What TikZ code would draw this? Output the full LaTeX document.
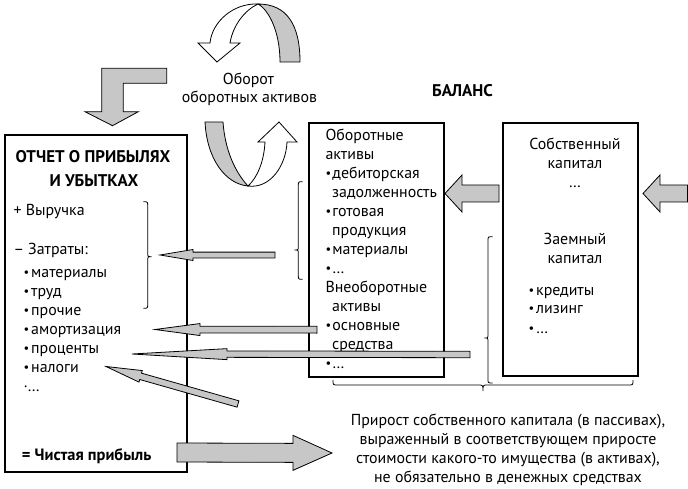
\documentclass[tikz,border=0pt]{standalone}
\usepackage{fontspec}
\setmainfont{PT Sans}
\usetikzlibrary{calc}
\newcommand\bulx[1]{\makebox[#1][l]{\raisebox{0.8pt}{\fontsize{12.5}{12.5}\selectfont •}}}
% grey block arrow: tail, tip, shaft half width, head half width, head length
\newcommand\grarrow[5]{%
  \path ($(#2)!#5!(#1)$) coordinate (ga-base);
  \draw[arrowst] ($(#1)!#3!90:(#2)$) -- ($(ga-base)!#3!90:(#2)$) -- ($(ga-base)!#4!90:(#2)$)
    -- (#2) -- ($(ga-base)!#4!-90:(#2)$) -- ($(ga-base)!#3!-90:(#2)$) -- ($(#1)!#3!-90:(#2)$) -- cycle;}
\definecolor{arrowgrey}{gray}{0.78}
\tikzset{
  box/.style={draw, line width=1.3pt, inner sep=0pt},
  arrowst/.style={draw, fill=arrowgrey, line width=0.8pt, line join=miter},
  txt/.style={inner sep=0pt, font=\fontsize{15.9}{19}\selectfont, anchor=base west},
  ctxt/.style={txt, anchor=base},
  btxt/.style={inner sep=0pt, font=\fontsize{16.9}{19}\selectfont\bfseries, anchor=base},
  brace/.style={line width=0.8pt},
}
\begin{document}
\begin{tikzpicture}[x=1pt,y=-1pt]
\useasboundingbox (0,0) rectangle (688,489);
% boxes
\node[box, minimum width=182pt, minimum height=337pt] (pl) at (96,303.5) {};
\node[box, minimum width=135pt, minimum height=254pt] (ca) at (376.5,250) {};
\node[box, minimum width=135pt, minimum height=253pt] (eq) at (570.5,249.5) {};

% left box texts
\node[btxt] (t1) at (93,163) {ОТЧЕТ О ПРИБЫЛЯХ};
\node[btxt] (t2) at (94,187) {И УБЫТКАХ};
\node[txt] (rev) at (13.3,216) {+ Выручка};
\node[txt] (cost) at (13.3,254.5) {– Затраты:};
\foreach \t [count=\i from 0] in {материалы,труд,прочие,амортизация,проценты,налоги}
  \node[txt] (c\i) at (23.3,277+19*\i) {\bulx{7.7pt}\t};
\node[txt] (cdots) at (23.3,391) {·…};
\node[txt, font=\fontsize{16.4}{19}\selectfont\bfseries] (np) at (21.7,460) {= Чистая прибыль};

% middle box texts
\node[txt] (m0) at (325.3,140.5) {Оборотные};
\node[txt] (m1) at (325.3,159.5) {активы};
\node[txt] (m2) at (325.3,178.5) {\bulx{6.9pt}дебиторская};
\node[txt] (m3) at (332,197.5) {задолженность};
\node[txt] (m4) at (325.3,216.5) {\bulx{6.9pt}готовая};
\node[txt] (m5) at (332,235.5) {продукция};
\node[txt] (m6) at (325.3,254.5) {\bulx{6.9pt}материалы};
\node[txt] (m7) at (325.3,273.5) {\bulx{6.9pt}…};
\node[txt] (m8) at (325.3,292.5) {Внеоборотные};
\node[txt] (m9) at (332,311.5) {активы};
\node[txt] (m10) at (325.3,330.5) {\bulx{6.9pt}основные};
\node[txt] (m11) at (332,349.5) {средства};
\node[txt] (m12) at (325.3,368.5) {\bulx{6.9pt}…};

% right box texts
\node[ctxt] (r0) at (575,150) {Собственный};
\node[ctxt] (r1) at (575,168.5) {капитал};
\node[ctxt] (r2) at (575,188) {…};
\node[ctxt] (r3) at (575,244.5) {Заемный};
\node[ctxt] (r4) at (575,263) {капитал};
\node[txt] (r5) at (528.3,295) {\bulx{7.7pt}кредиты};
\node[txt] (r6) at (528.3,313.5) {\bulx{7.7pt}лизинг};
\node[txt] (r7) at (528.3,333) {\bulx{7.7pt}…};

% top texts
\node[ctxt] (turn1) at (248.5,85) {Оборот};
\node[ctxt] (turn2) at (249.5,103) {оборотных активов};
\node[btxt] (bal) at (462.5,96.7) {БАЛАНС};

% bottom text
\foreach \t [count=\i] in {{Прирост собственного капитала (в пассивах),},{выраженный в соответствующем приросте},{стоимости какого-то имущества (в активах),},{не обязательно в денежных средствах}}
  \node[ctxt] (b\i) at (508,406.7+19*\i) {\t};

% braces
\draw[brace] (143.3,201.7) .. controls (147.7,201.7) .. (147.7,206) -- (147.7,252.5)
  .. controls (147.7,256.7) .. (151.5,256.7) .. controls (147.7,256.7) .. (147.7,261)
  -- (147.7,304) .. controls (147.7,308.3) .. (143.3,308.3);
\draw[brace] (302.7,181.7) .. controls (298.3,181.7) .. (298.3,186) -- (298.3,246)
  .. controls (298.3,250) .. (294.5,250) .. controls (298.3,250) .. (298.3,254)
  -- (298.3,275) .. controls (298.3,279.3) .. (302.7,279.3);
\draw[brace] (492.5,236.7) .. controls (488,236.7) .. (488,241) -- (488,334)
  .. controls (488,338) .. (484.5,338) .. controls (488,338) .. (488,342)
  -- (488,379) .. controls (488,383) .. (492.5,383);
\draw[brace] (333,380) .. controls (333,385) .. (338,385) -- (478,385)
  .. controls (483,385) .. (483,391) .. controls (483,385) .. (488,385)
  -- (628,385) .. controls (633,385) .. (633,380);

% thin grey arrows
\coordinate (a1s) at (275,255);   \coordinate (a1e) at (160,255);
\coordinate (a2s) at (317,329.7); \coordinate (a2e) at (155,329.5);
\coordinate (a3s) at (470,354.5); \coordinate (a3e) at (132,354);
\coordinate (a4s) at (238,404);   \coordinate (a4e) at (106,366.5);
\grarrow{a1s}{a1e}{2.9pt}{5.5pt}{33pt}
\grarrow{a2s}{a2e}{3.4pt}{6pt}{45pt}
\grarrow{a3s}{a3e}{3.2pt}{5.5pt}{95pt}
\grarrow{a4s}{a4e}{3.3pt}{6pt}{36pt}

% block arrows
\coordinate (k1s) at (499,193.5); \coordinate (k1e) at (445,193.5);
\coordinate (k2s) at (687.5,193.5); \coordinate (k2e) at (643,193.5);
\coordinate (k3s) at (177,452.5); \coordinate (k3e) at (332,453);
\grarrow{k1s}{k1e}{8.5pt}{18.5pt}{17pt}
\grarrow{k2s}{k2e}{8.5pt}{18.5pt}{17pt}
\grarrow{k3s}{k3e}{9.5pt}{17.5pt}{39pt}

% L-shaped arrow
\draw[arrowst] (101.7,68.3) -- (166.7,68.3) -- (166.7,83.3) -- (123.3,83.3) -- (123.3,111.7)
  -- (138.3,111.7) -- (112.5,125.7) -- (85,111.7) -- (101.7,111.7) -- cycle;

% rotating arrows (top)
\draw[arrowst] (280,62) -- (300,62) .. controls (300,25) and (287,4) .. (258,4)
  .. controls (269,10) and (280,32) .. (280,62) -- cycle;
\draw[arrowst, fill=white] (258,4) .. controls (233,3) and (212,22) .. (210,43) -- (198,43)
  -- (217,62) -- (240,43) -- (230,43) .. controls (233,25) and (245,10) .. (258,4) -- cycle;
% rotating arrows (bottom)
\draw[arrowst] (205,122) -- (223,122) .. controls (225,150) and (235,172) .. (248,186)
  .. controls (226,184) and (207,160) .. (205,122) -- cycle;
\draw[arrowst, fill=white] (248,186) .. controls (270,189) and (286,166) .. (287,142) -- (297,142)
  -- (279,122) -- (258,142) -- (265,142) .. controls (264,162) and (257,178) .. (248,186) -- cycle;
\end{tikzpicture}
\end{document}
